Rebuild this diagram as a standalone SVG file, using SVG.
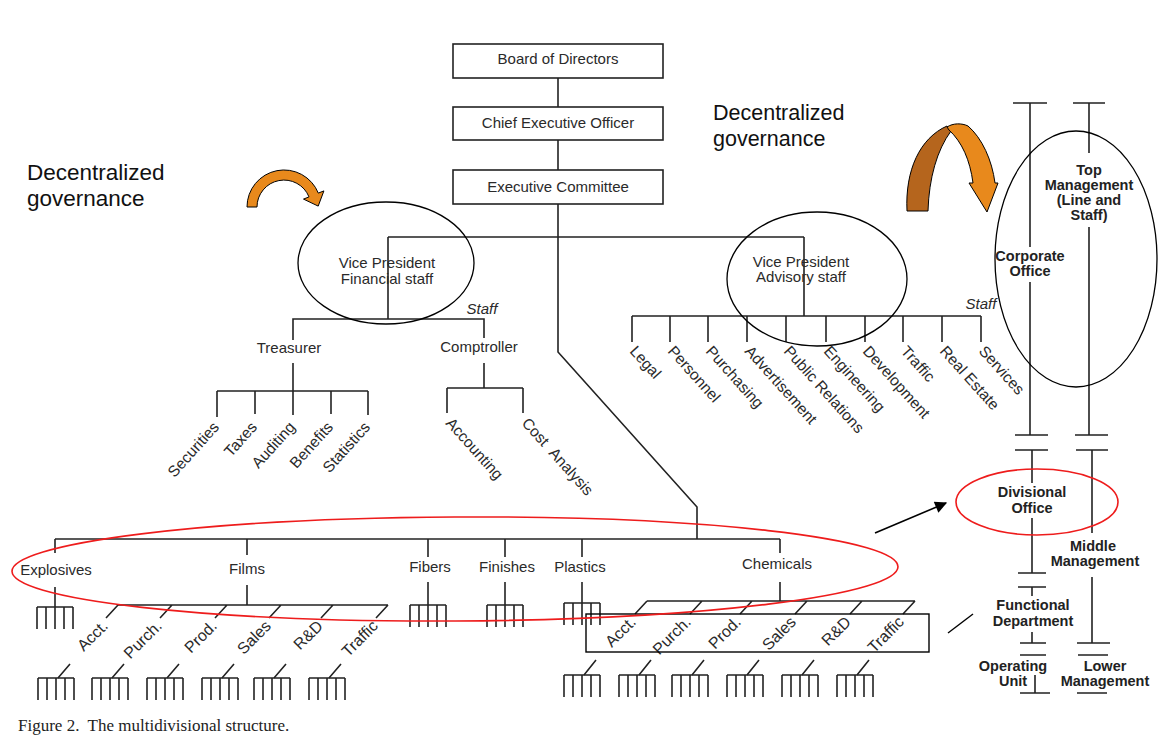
<svg xmlns="http://www.w3.org/2000/svg" width="1159" height="745" viewBox="0 0 1159 745">
<style>
.ln{stroke:#222;stroke-width:1.6;fill:none}
.t{font-family:"Liberation Sans",Arial,sans-serif;font-size:15px;fill:#2a2a2a}
.r{font-size:15.5px}
.f{font-size:16px}
.c{text-anchor:middle}
.e{text-anchor:end}
.b{font-family:"Liberation Sans",Arial,sans-serif;font-weight:bold;font-size:14.5px;text-anchor:middle;fill:#222}
.box{fill:#fff;stroke:#222;stroke-width:1.6}
.ov{fill:none;stroke:#000;stroke-width:1.3}
.rd{fill:none;stroke:#ee1c1c;stroke-width:1.6}
.big{font-family:"Liberation Sans",Arial,sans-serif;fill:#111}
.it{font-style:italic}
.or{stroke:#000;stroke-width:1}
</style>
<defs>
<g id="rake" class="ln"><path d="M-18 0H18M-18 0v22M-9 0v22M0 0v22M9 0v22M18 0v22"/></g>
<marker id="ah" viewBox="0 0 10 10" refX="9" refY="5" markerWidth="15" markerHeight="12" orient="auto" markerUnits="userSpaceOnUse"><path d="M0 0L10 5L0 10z" fill="#000"/></marker>
</defs>
<rect width="1159" height="745" fill="#fff"/>

<g id="connectors" class="ln">
<path d="M558 78V107M558 140V170M558 204V352L697 507V539"/>
<path d="M388 237H804M388 237V319M293 340V319H484V338"/>
<path d="M293 363V391M217 391H368M217 391V417M255 391V414M293 391V415M331 391V414M368 391V415"/>
<path d="M484 363V388M447 388H523M447 388V413M523 388V413"/>
<path d="M804 237V316M632 316H981M632 316V342M670 316V342M708 316V342M747 316V342M786 316V342M826 316V342M865 316V342M903 316V342M942 316V342M981 316V342"/>
<path d="M55 539H780"/>
<path d="M55 539V553M55 587V607"/>
<path d="M247 539V555M247 585V605M118 605H388M118 605L106 618M172 605L160 618M227 605L215 618M281 605L269 618M333 605L321 618M388 605L376 618"/>
<path d="M428 539V557M428 582V605M505 539V557M505 582V605M582 539V557M582 582V603"/>
<path d="M780 539V553M780 582V601M647 601H915M647 601L635 614M702 601L690 614M752 601L740 614M807 601L795 614M862 601L850 614M915 601L903 614"/>
<path d="M58 678L70 664M112 678L124 664M167 678L179 664M222 678L234 664M274 678L286 664M329 678L341 664"/>
<path d="M584 675L596 660M639 675L651 660M692 675L704 660M747 675L759 660M802 675L814 660M857 675L869 660"/>
</g>

<g id="rakes">
<use href="#rake" x="55" y="607"/>
<use href="#rake" x="428" y="605"/>
<use href="#rake" x="505" y="605"/>
<use href="#rake" x="582" y="603"/>
<use href="#rake" x="56" y="678"/>
<use href="#rake" x="110" y="678"/>
<use href="#rake" x="165" y="678"/>
<use href="#rake" x="220" y="678"/>
<use href="#rake" x="272" y="678"/>
<use href="#rake" x="327" y="678"/>
<use href="#rake" x="582" y="675"/>
<use href="#rake" x="637" y="675"/>
<use href="#rake" x="690" y="675"/>
<use href="#rake" x="745" y="675"/>
<use href="#rake" x="800" y="675"/>
<use href="#rake" x="855" y="675"/>
</g>

<g id="board"><rect class="box" x="453" y="44" width="210" height="34"/><text class="t c" x="558" y="64" font-size="14.5">Board of Directors</text></g>
<g id="ceo"><rect class="box" x="453" y="107" width="210" height="33"/><text class="t c" x="558" y="128" font-size="14.5">Chief Executive Officer</text></g>
<g id="exec"><rect class="box" x="453" y="170" width="210" height="34"/><text class="t c" x="558" y="192" font-size="14.5">Executive Committee</text></g>

<g id="vp-financial">
<text class="t c" x="387" y="268" font-size="14">Vice President</text>
<text class="t c" x="387" y="284" font-size="14">Financial staff</text>
<ellipse class="ov" cx="386" cy="263" rx="88" ry="61"/>
<text class="t it c" x="482" y="314" font-size="14">Staff</text>
</g>
<g id="treasurer"><text class="t c" x="289" y="353">Treasurer</text></g>
<g id="comptroller"><text class="t c" x="479" y="352">Comptroller</text></g>
<g id="finance-units">
<text class="t r e" transform="translate(216 424) rotate(-48)" dy=".35em">Securities</text>
<text class="t r e" transform="translate(254 424) rotate(-48)" dy=".35em">Taxes</text>
<text class="t r e" transform="translate(292 424) rotate(-48)" dy=".35em">Auditing</text>
<text class="t r e" transform="translate(330 424) rotate(-48)" dy=".35em">Benefits</text>
<text class="t r e" transform="translate(367 424) rotate(-48)" dy=".35em">Statistics</text>
<text class="t r" transform="translate(449 420) rotate(48)" dy=".35em">Accounting</text>
<text class="t r" transform="translate(525 420) rotate(48)" dy=".35em" word-spacing="5">Cost Analysis</text>
</g>

<g id="vp-advisory">
<text class="t c" x="801" y="267" font-size="14">Vice President</text>
<text class="t c" x="801" y="282" font-size="14">Advisory staff</text>
<ellipse class="ov" cx="817" cy="279" rx="90" ry="67"/>
<text class="t it c" x="981" y="309" font-size="14">Staff</text>
</g>
<g id="advisory-units">
<text class="t r" transform="translate(633 348) rotate(48)" dy=".35em">Legal</text>
<text class="t r" transform="translate(671 348) rotate(48)" dy=".35em">Personnel</text>
<text class="t r" transform="translate(709 348) rotate(48)" dy=".35em">Purchasing</text>
<text class="t r" transform="translate(748 348) rotate(48)" dy=".35em">Advertisement</text>
<text class="t r" transform="translate(787 348) rotate(48)" dy=".35em">Public Relations</text>
<text class="t r" transform="translate(827 348) rotate(48)" dy=".35em">Engineering</text>
<text class="t r" transform="translate(866 348) rotate(48)" dy=".35em">Development</text>
<text class="t r" transform="translate(904 348) rotate(48)" dy=".35em">Traffic</text>
<text class="t r" transform="translate(943 348) rotate(48)" dy=".35em">Real Estate</text>
<text class="t r" transform="translate(982 348) rotate(48)" dy=".35em">Services</text>
</g>

<g id="divisions">
<text class="t c" x="56" y="575">Explosives</text>
<text class="t c" x="247" y="574">Films</text>
<text class="t c" x="430" y="572">Fibers</text>
<text class="t c" x="507" y="572">Finishes</text>
<text class="t c" x="580" y="572">Plastics</text>
<text class="t c" x="777" y="569">Chemicals</text>
</g>
<g id="films-functions">
<text class="t f e" transform="translate(105 623) rotate(-45)" dy=".35em">Acct.</text>
<text class="t f e" transform="translate(159 623) rotate(-45)" dy=".35em">Purch.</text>
<text class="t f e" transform="translate(214 623) rotate(-45)" dy=".35em">Prod.</text>
<text class="t f e" transform="translate(268 623) rotate(-45)" dy=".35em">Sales</text>
<text class="t f e" transform="translate(320 623) rotate(-45)" dy=".35em">R&amp;D</text>
<text class="t f e" transform="translate(375 623) rotate(-45)" dy=".35em">Traffic</text>
</g>
<g id="chemicals-functions">
<text class="t f e" transform="translate(633 619) rotate(-45)" dy=".35em">Acct.</text>
<text class="t f e" transform="translate(688 619) rotate(-45)" dy=".35em">Purch.</text>
<text class="t f e" transform="translate(738 619) rotate(-45)" dy=".35em">Prod.</text>
<text class="t f e" transform="translate(793 619) rotate(-45)" dy=".35em">Sales</text>
<text class="t f e" transform="translate(848 619) rotate(-45)" dy=".35em">R&amp;D</text>
<text class="t f e" transform="translate(901 619) rotate(-45)" dy=".35em">Traffic</text>
<rect x="586" y="614" width="343" height="38" fill="none" stroke="#000" stroke-width="1.4"/>
</g>

<g id="levels">
<path class="ln" d="M1013 103H1047M1030 103V247M1030 282V435M1015 435H1048M1015 450H1048M1032 450V483M1032 518V573M1018 573H1046M1018 587H1046M1032 587V596M1032 632V643M1020 643H1046M1020 655H1046M1035 675V693M1020 693H1050"/>
<path class="ln" d="M1073 103H1105M1089 103V153M1089 227V435M1075 435H1108M1076 450H1108M1092 450V533M1092 577V643M1077 643H1110M1078 655H1108M1077 693H1107"/>
<text class="b" x="1030" y="261">Corporate</text>
<text class="b" x="1030" y="276">Office</text>
<text class="b" x="1089" y="175">Top</text>
<text class="b" x="1089" y="190">Management</text>
<text class="b" x="1089" y="205">(Line and</text>
<text class="b" x="1089" y="220">Staff)</text>
<text class="b" x="1032" y="497">Divisional</text>
<text class="b" x="1032" y="513">Office</text>
<text class="b" x="1093" y="551">Middle</text>
<text class="b" x="1095" y="566">Management</text>
<text class="b" x="1033" y="610">Functional</text>
<text class="b" x="1033" y="626">Department</text>
<text class="b" x="1013" y="671">Operating</text>
<text class="b" x="1013" y="686">Unit</text>
<text class="b" x="1105" y="671">Lower</text>
<text class="b" x="1105" y="686">Management</text>
<ellipse class="ov" cx="1076" cy="259" rx="81" ry="128"/>
</g>

<g id="annotations">
<ellipse class="rd" cx="455" cy="569" rx="443" ry="52" transform="rotate(-0.3 455 569)"/>
<ellipse class="rd" cx="1037" cy="502" rx="81" ry="33"/>
<path d="M875 533L946 503" stroke="#000" stroke-width="1.6" fill="none" marker-end="url(#ah)"/>
<path d="M948 633L973 614" stroke="#000" stroke-width="1.4"/>
<text class="big" x="27" y="180" font-size="22.5">Decentralized</text>
<text class="big" x="27" y="206" font-size="22.5">governance</text>
<text class="big" x="713" y="120" font-size="21.5">Decentralized</text>
<text class="big" x="713" y="146" font-size="21.5">governance</text>
<path class="or" fill="#E8891C" d="M247 207A37 37 0 0 1 318.3 193.1L323.9 190.9L318.2 206.1L303.5 199.1L309 196.9A27 27 0 0 0 257 207Z"/>
<path class="or" fill="#B5651D" d="M907 211C905 170 920 138 947 126L951 131C937 150 929 178 928 211Z"/>
<path class="or" fill="#E8891C" d="M947 127C953 123 962 123 968 126C982 138 992 160 995 183L998 183L987 212L969 183L973 183C970 160 962 142 949 130Z"/>
</g>

<text x="18" y="731" font-family="Liberation Serif, serif" font-size="17" fill="#222" style="white-space:pre">Figure 2.  The multidivisional structure.</text>
</svg>
